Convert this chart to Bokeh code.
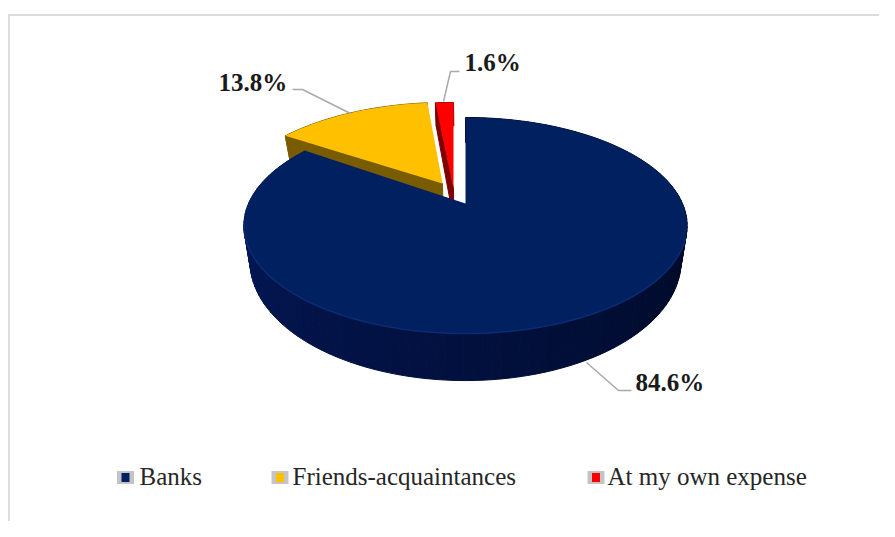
import math
from bokeh.plotting import figure
from bokeh.core.properties import value
from bokeh.embed import file_html
from bokeh.resources import INLINE

categories = ["Banks", "Friends-acquaintances", "At my own expense"]
shares = [84.6, 13.8, 1.6]
labels = ["84.6%", "13.8%", "1.6%"]

top_colors = ["#002060", "#FFC000", "#FF0000"]
side_colors = ["#03143f", "#7a5c00", "#7f0000"]
explode = [(0, 0), (-20, -15), (-12, -15)]
apex_shift = [(0, 0), (-23, -20), (-12, -15)]
label_pos = [(635, 381.5), (218, 81.5), (464, 62)]
leaders = [
    ([586, 618, 631], [362, 390, 390]),
    ([350, 302, 292], [113, 89, 89]),
    ([443, 450, 459], [101, 71, 71]),
]
legend_x = [125, 279.5, 595.5]
legend_text_x = [139, 292, 607]
legend_y = 477
legend_text_y = 475.5

CX, APEX_Y, D, A, C = 465.0, 203.0, 217.0, 62.2, -0.2037
SERIF = "Liberation Serif"


def project(frac):
    phi = 2 * math.pi * frac
    u, v = math.sin(phi), -math.cos(phi)
    w = 1 + C * v
    return CX + D * u / w, (A * v + APEX_Y) / w


def depth_at(y):
    return 25 + (y - 117) * 0.102


def lower(x, y):
    return CX + (x - CX) * 0.972, y + depth_at(y)


def arc(f0, f1, n):
    return [project(f0 + (f1 - f0) * i / n) for i in range(n + 1)]


def mix(a, b, t):
    ca = [int(a[i:i + 2], 16) for i in (1, 3, 5)]
    cb = [int(b[i:i + 2], 16) for i in (1, 3, 5)]
    return "#%02x%02x%02x" % tuple(round(p + (q - p) * t) for p, q in zip(ca, cb))


p = figure(width=879, height=521, x_range=(0, 879), y_range=(521, 0),
           toolbar_location=None, output_backend="svg", min_border=0)
p.axis.visible = False
p.grid.visible = False
p.outline_line_color = None
p.background_fill_color = "#ffffff"
p.border_fill_color = "#ffffff"

p.line([8.5, 8.5], [14, 521], line_color="#dcdcdc", line_width=2)
p.line([8, 879], [14.5, 14.5], line_color="#dcdcdc", line_width=2)

total = sum(shares)
starts = [sum(shares[:i]) / total for i in range(len(shares))]
ends = [sum(shares[:i + 1]) / total for i in range(len(shares))]

# back slices first, Banks last: it hides their lower parts
for i in (2, 1, 0):
    f0, f1 = starts[i], ends[i]
    dx, dy = explode[i]
    ax, ay = apex_shift[i]
    rim = arc(f0, f1, max(int((f1 - f0) * 180), 6))
    apex = (CX, APEX_Y)
    if i == 0:
        n = len(rim) - 1
        for k in range(n):
            a, b = rim[k], rim[k + 1]
            la, lb = lower(*a), lower(*b)
            t = (k + 0.5) / n
            col = mix("#000a28", "#04185a", min(1.0, max(0.0, (t - 0.35) / 0.55)))
            p.patch([a[0], b[0], lb[0], la[0]], [a[1], b[1], lb[1], la[1]],
                    fill_color=col, line_color=col, line_width=1)
    else:
        pts = [(apex[0] + ax, apex[1] + ay)] + [(q[0] + dx, q[1] + dy) for q in rim]
        for k in range(len(pts) - 1):
            a, b = pts[k], pts[k + 1]
            la, lb = lower(*a), lower(*b)
            p.patch([a[0], b[0], lb[0], la[0]], [a[1], b[1], lb[1], la[1]],
                    fill_color=side_colors[i], line_color=side_colors[i], line_width=1)
    xs = [apex[0] + ax] + [q[0] + dx for q in rim]
    ys = [apex[1] + ay] + [q[1] + dy for q in rim]
    p.patch(xs, ys, fill_color=top_colors[i], line_color=None)

# soft highlight along the front edge of the Banks top face
front = arc(0.30, 0.72, 60)
p.line([q[0] for q in front], [q[1] for q in front], line_color="#0a2c72", line_width=1.5)

for (lx, ly) in leaders:
    p.line(lx, ly, line_color="#a9a9a9", line_width=1.5)

p.text([q[0] for q in label_pos], [q[1] for q in label_pos], text=labels,
       text_font=value(SERIF), text_font_style="bold", text_font_size="25px",
       text_color="#1a1a1a", text_baseline="middle", text_align="left")

p.rect(legend_x, [legend_y] * 3, width=17, height=13, fill_color="#c4c4c4", line_color=None)
p.rect(legend_x, [legend_y] * 3, width=8, height=9,
       fill_color=top_colors, line_color=None)
p.text(legend_text_x, [legend_text_y] * 3, text=categories, text_font=value(SERIF),
       text_font_size="25px", text_color="#262626", text_baseline="middle",
       text_align="left")

open("out.html", "w").write(file_html(p, INLINE))
